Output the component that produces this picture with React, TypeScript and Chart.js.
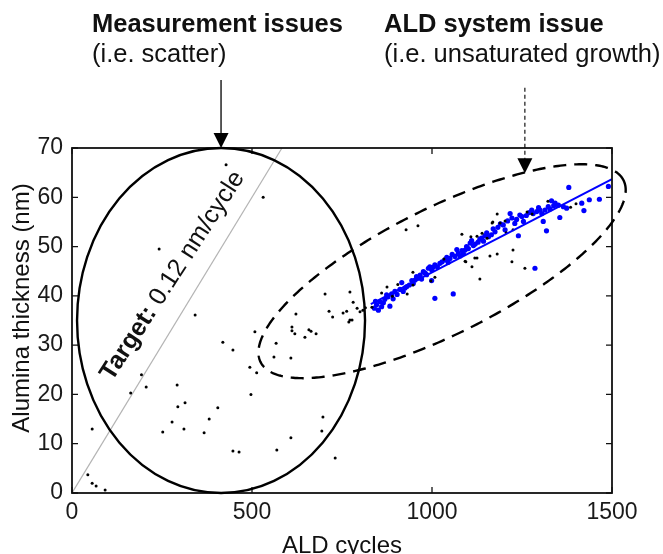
import React, { useEffect, useRef } from 'react';
import { Chart, registerables } from 'chart.js';

Chart.register(...registerables);

const FONT = "'Liberation Sans', Arial, Helvetica, sans-serif";

// Axis ticks
const xTicks = [0, 500, 1000, 1500];
const yTicks = [0, 10, 20, 30, 40, 50, 60, 70];

// All measurements (black dots)
const blackX = [
  44, 56, 67, 92, 56, 163, 193, 206, 252, 278, 292, 294, 311, 314, 367, 381, 405, 447, 464, 494, 513, 497,
  569, 608, 697, 694, 731, 428, 531, 242, 342, 419, 447, 508,
  703, 772, 781, 792, 714, 724, 753, 763, 772, 769, 778, 622, 611, 611, 619, 658, 664, 678, 647, 567, 561,
  608, 808, 800, 815,
  928, 961, 1083, 1108, 1125, 1139, 1153, 1167, 1181, 1161, 1094, 1125, 1111, 1133, 1033, 947, 1008, 997,
  931, 875, 947, 833, 1181, 1169, 1189, 1203, 1206, 1225, 1264, 1278, 1322, 1225, 1222, 1258, 1119, 1092,
  1385, 1400, 890, 905, 860
];
const blackY = [
  3.7, 2.0, 1.4, 0.6, 13.0, 20.3, 24.0, 21.5, 12.4, 14.4, 21.9, 17.5, 13.0, 18.3, 12.2, 15.0, 17.3, 8.5, 8.3, 25.5, 24.4, 20.0,
  8.7, 11.2, 15.4, 12.6, 7.1, 66.6, 60.0, 49.5, 36.1, 30.6, 29.0, 32.7,
  40.4, 40.8, 38.7, 37.5, 36.9, 35.7, 36.5, 36.9, 35.1, 34.7, 35.1, 36.3, 33.7, 32.9, 32.3, 33.1, 32.8, 32.3, 31.6, 30.4, 27.6,
  27.4, 37.1, 36.8, 37.6,
  53.4, 54.2, 52.5, 52.0, 52.1, 52.7, 51.7, 54.8, 48.5, 48.1, 46.9, 47.7, 45.9, 43.4, 47.5, 44.8, 43.8, 43.0,
  40.4, 41.8, 42.2, 37.7, 56.6, 55.0, 54.8, 55.2, 52.8, 53.4, 57.0, 56.6, 59.2, 49.3, 46.9, 45.6, 47.7, 47.0,
  58.0, 58.7, 39.9, 42.3, 40.6
];

// Selected measurements (blue dots)
const blueX = [
  846, 851, 856, 860, 869, 883, 874, 888, 897, 911, 916, 920, 930, 937, 944, 953, 957, 967, 971, 981, 990, 994,
  999, 999, 1008, 1022, 1036, 1041, 1050, 1064, 1069, 1073, 1078, 1087, 1096, 1106, 1110, 1120, 1138, 1147,
  1157, 1175, 1008, 1059,
  1198, 1203, 1217, 1230, 1235, 1240, 1244, 1254, 1277, 1281, 1291, 1300, 1305, 1309, 1314, 1318, 1323, 1332,
  1342, 1351, 1355, 1365, 1374, 1380, 1416, 1422, 1437, 1465, 1490, 1286,
  840, 843, 865, 878, 892, 903, 925, 948, 962, 976, 985, 1003, 1015, 1028, 1045, 1056, 1083, 1092, 1101, 1115,
  1128, 1133, 1143, 1152, 1165, 1170, 1183, 1190, 1210, 1222, 1250, 1262, 1270, 1296, 1328, 1338
];
const blueY = [
  38.2, 37.1, 38.8, 37.8, 39.3, 37.9, 40.2, 40.4, 40.9, 41.3, 42.7, 40.9, 41.9, 42.2, 43.1, 43.2, 43.9, 44.2, 43.4, 44.6, 45.6, 45.9,
  45.3, 43.1, 46.3, 46.6, 47.3, 47.8, 47.6, 48.0, 49.4, 48.6, 48.1, 48.6, 50.0, 50.7, 51.2, 50.5, 51.7, 52.2,
  52.0, 53.0, 39.5, 40.4,
  54.4, 53.4, 56.7, 54.7, 55.5, 52.2, 56.4, 55.1, 57.4, 56.7, 57.1, 57.4, 56.7, 55.1, 57.4, 53.2, 58.1, 59.3,
  58.8, 58.4, 55.9, 58.1, 57.8, 62.0, 58.8, 57.3, 59.5, 59.6, 62.2, 45.6,
  37.5, 38.9, 38.6, 39.8, 39.4, 40.3, 41.6, 42.5, 43.6, 44.9, 44.3, 45.8, 45.9, 46.9, 46.8, 48.4, 49.2, 49.3, 49.6, 50.2,
  50.9, 51.5, 51.1, 52.8, 52.4, 53.6, 53.9, 54.6, 55.2, 55.8, 56.1, 56.3, 56.9, 57.9, 57.6, 58.3
];

// Linear fit of the blue points
const fitX = [830, 1500];
const fitY = [38.3, 63.7];

// Target growth line 0.12 nm/cycle
const targetX = [0, 583.3];
const targetY = [0, 70];

// Texts
const headLeft = 'Measurement issues';
const subLeft = '(i.e. scatter)';
const headRight = 'ALD system issue';
const subRight = '(i.e. unsaturated growth)';
const targetBold = 'Target:';
const targetRest = ' 0.12 nm/cycle';
const xTitle = 'ALD cycles';
const yTitle = 'Alumina thickness (nm)';

// Annotation geometry in data units
const ellipse1 = { cx: 414, cy: 35, rx: 400, ry: 35 };
const ellipse2 = { cx: 1028, cy: 45.0, ux: 504, uy: 18.45, vx: 78.4, vy: -11.43 };
const arrow1 = { x: 414, yStart: 83.8, yTip: 70 };
const arrow2 = { x: 1258, yStart: 82.2, yTip: 64.9 };
const targetAnchor = { x: 111, y: 22.5, angleDeg: -57 };

const toPts = (xs: number[], ys: number[]) => xs.map((x, i) => ({ x, y: ys[i] }));

const annotPlugin = {
  id: 'annot',
  afterDatasetsDraw(chart: any) {
    const { ctx, chartArea: ca, scales } = chart;
    const sx = scales.x;
    const sy = scales.y;
    const px = (v: number) => sx.getPixelForValue(v);
    const py = (v: number) => sy.getPixelForValue(v);
    ctx.save();

    // box and inward ticks
    ctx.strokeStyle = '#111';
    ctx.lineWidth = 1.8;
    ctx.setLineDash([]);
    ctx.strokeRect(ca.left, ca.top, ca.right - ca.left, ca.bottom - ca.top);
    ctx.lineWidth = 1.3;
    ctx.beginPath();
    xTicks.forEach((t) => {
      const X = px(t);
      ctx.moveTo(X, ca.bottom);
      ctx.lineTo(X, ca.bottom - 6);
      ctx.moveTo(X, ca.top);
      ctx.lineTo(X, ca.top + 6);
    });
    yTicks.forEach((t) => {
      const Y = py(t);
      ctx.moveTo(ca.left, Y);
      ctx.lineTo(ca.left + 6, Y);
      ctx.moveTo(ca.right, Y);
      ctx.lineTo(ca.right - 6, Y);
    });
    ctx.stroke();

    // solid ellipse
    ctx.strokeStyle = '#000';
    ctx.lineWidth = 2.4;
    ctx.beginPath();
    ctx.ellipse(
      px(ellipse1.cx),
      py(ellipse1.cy),
      Math.abs(px(ellipse1.cx + ellipse1.rx) - px(ellipse1.cx)),
      Math.abs(py(ellipse1.cy + ellipse1.ry) - py(ellipse1.cy)),
      0,
      0,
      Math.PI * 2
    );
    ctx.stroke();

    // dashed ellipse
    ctx.setLineDash([13, 8]);
    ctx.beginPath();
    for (let i = 0; i <= 360; i++) {
      const t = (i * Math.PI) / 180;
      const dx = ellipse2.cx + Math.cos(t) * ellipse2.ux + Math.sin(t) * ellipse2.vx;
      const dy = ellipse2.cy + Math.cos(t) * ellipse2.uy + Math.sin(t) * ellipse2.vy;
      if (i === 0) ctx.moveTo(px(dx), py(dy));
      else ctx.lineTo(px(dx), py(dy));
    }
    ctx.stroke();

    // solid arrow
    ctx.setLineDash([]);
    ctx.lineWidth = 1.3;
    const a1x = px(arrow1.x);
    const a1tip = py(arrow1.yTip);
    ctx.beginPath();
    ctx.moveTo(a1x, py(arrow1.yStart));
    ctx.lineTo(a1x, a1tip - 14);
    ctx.stroke();
    ctx.fillStyle = '#000';
    ctx.beginPath();
    ctx.moveTo(a1x, a1tip);
    ctx.lineTo(a1x - 7.5, a1tip - 15);
    ctx.lineTo(a1x + 7.5, a1tip - 15);
    ctx.closePath();
    ctx.fill();

    // dashed arrow
    const a2x = px(arrow2.x);
    const a2tip = py(arrow2.yTip);
    ctx.setLineDash([4, 3]);
    ctx.lineWidth = 1.1;
    ctx.beginPath();
    ctx.moveTo(a2x, py(arrow2.yStart));
    ctx.lineTo(a2x, a2tip - 14);
    ctx.stroke();
    ctx.setLineDash([]);
    ctx.beginPath();
    ctx.moveTo(a2x, a2tip);
    ctx.lineTo(a2x - 7.5, a2tip - 15);
    ctx.lineTo(a2x + 7.5, a2tip - 15);
    ctx.closePath();
    ctx.fill();

    // target label
    ctx.save();
    ctx.translate(px(targetAnchor.x), py(targetAnchor.y));
    ctx.rotate((targetAnchor.angleDeg * Math.PI) / 180);
    ctx.textAlign = 'left';
    ctx.textBaseline = 'alphabetic';
    ctx.fillStyle = '#111';
    ctx.font = `bold 25px ${FONT}`;
    ctx.fillText(targetBold, 0, 0);
    const w = ctx.measureText(targetBold).width;
    ctx.font = `25px ${FONT}`;
    ctx.fillText(targetRest, w, 0);
    ctx.restore();

    // headers
    ctx.fillStyle = '#111';
    ctx.textAlign = 'left';
    ctx.textBaseline = 'alphabetic';
    ctx.font = `bold 25.5px ${FONT}`;
    ctx.fillText(headLeft, 92, 32);
    ctx.fillText(headRight, 384, 32);
    ctx.font = `25.5px ${FONT}`;
    ctx.fillText(subLeft, 92, 62);
    ctx.fillText(subRight, 384, 62);

    // axis titles
    ctx.font = `24px ${FONT}`;
    ctx.textAlign = 'center';
    ctx.fillText(xTitle, (ca.left + ca.right) / 2, 553);
    ctx.save();
    ctx.translate(22, 308);
    ctx.rotate(-Math.PI / 2);
    ctx.textBaseline = 'middle';
    ctx.fillText(yTitle, 0, 0);
    ctx.restore();

    ctx.restore();
  },
};

export default function App() {
  const canvasRef = useRef<HTMLCanvasElement | null>(null);

  useEffect(() => {
    if (!canvasRef.current) return;
    const chart = new Chart(canvasRef.current, {
      type: 'scatter',
      data: {
        datasets: [
          {
            label: 'Fit',
            data: toPts(fitX, fitY),
            showLine: true,
            borderColor: '#0000ff',
            borderWidth: 2,
            pointRadius: 0,
            fill: false,
          },
          {
            label: 'All',
            data: toPts(blackX, blackY),
            pointRadius: 1.5,
            backgroundColor: '#000000',
            borderWidth: 0,
          },
          {
            label: 'Selected',
            data: toPts(blueX, blueY),
            pointRadius: 2.6,
            backgroundColor: '#0000ff',
            borderWidth: 0,
          },
          {
            label: 'Target',
            data: toPts(targetX, targetY),
            showLine: true,
            borderColor: '#b4b4b4',
            borderWidth: 1.2,
            pointRadius: 0,
            fill: false,
          },
        ],
      },
      options: {
        animation: false,
        responsive: true,
        maintainAspectRatio: false,
        layout: { padding: { top: 148, right: 51, left: 0, bottom: 0 } },
        plugins: {
          legend: { display: false },
          tooltip: { enabled: false },
        },
        scales: {
          x: {
            type: 'linear',
            min: 0,
            max: 1500,
            afterBuildTicks: (s: any) => {
              s.ticks = xTicks.map((v) => ({ value: v }));
            },
            afterFit: (s: any) => {
              s.height = 61;
            },
            ticks: {
              padding: 6,
              color: '#1a1a1a',
              font: { family: FONT, size: 23 },
              callback: (v: any) => String(v),
            },
            grid: { display: false, drawTicks: false },
            border: { display: false },
          },
          y: {
            type: 'linear',
            min: 0,
            max: 70,
            afterBuildTicks: (s: any) => {
              s.ticks = yTicks.map((v) => ({ value: v }));
            },
            afterFit: (s: any) => {
              s.width = 72;
            },
            ticks: {
              padding: 9,
              color: '#1a1a1a',
              font: { family: FONT, size: 23 },
              callback: (v: any) => String(v),
            },
            grid: { display: false, drawTicks: false },
            border: { display: false },
          },
        },
      },
      plugins: [annotPlugin],
    });
    return () => chart.destroy();
  }, []);

  return (
    <div style={{ position: 'absolute', left: 0, top: 0, width: 663, height: 554, background: '#fff' }}>
      <canvas ref={canvasRef} />
    </div>
  );
}
